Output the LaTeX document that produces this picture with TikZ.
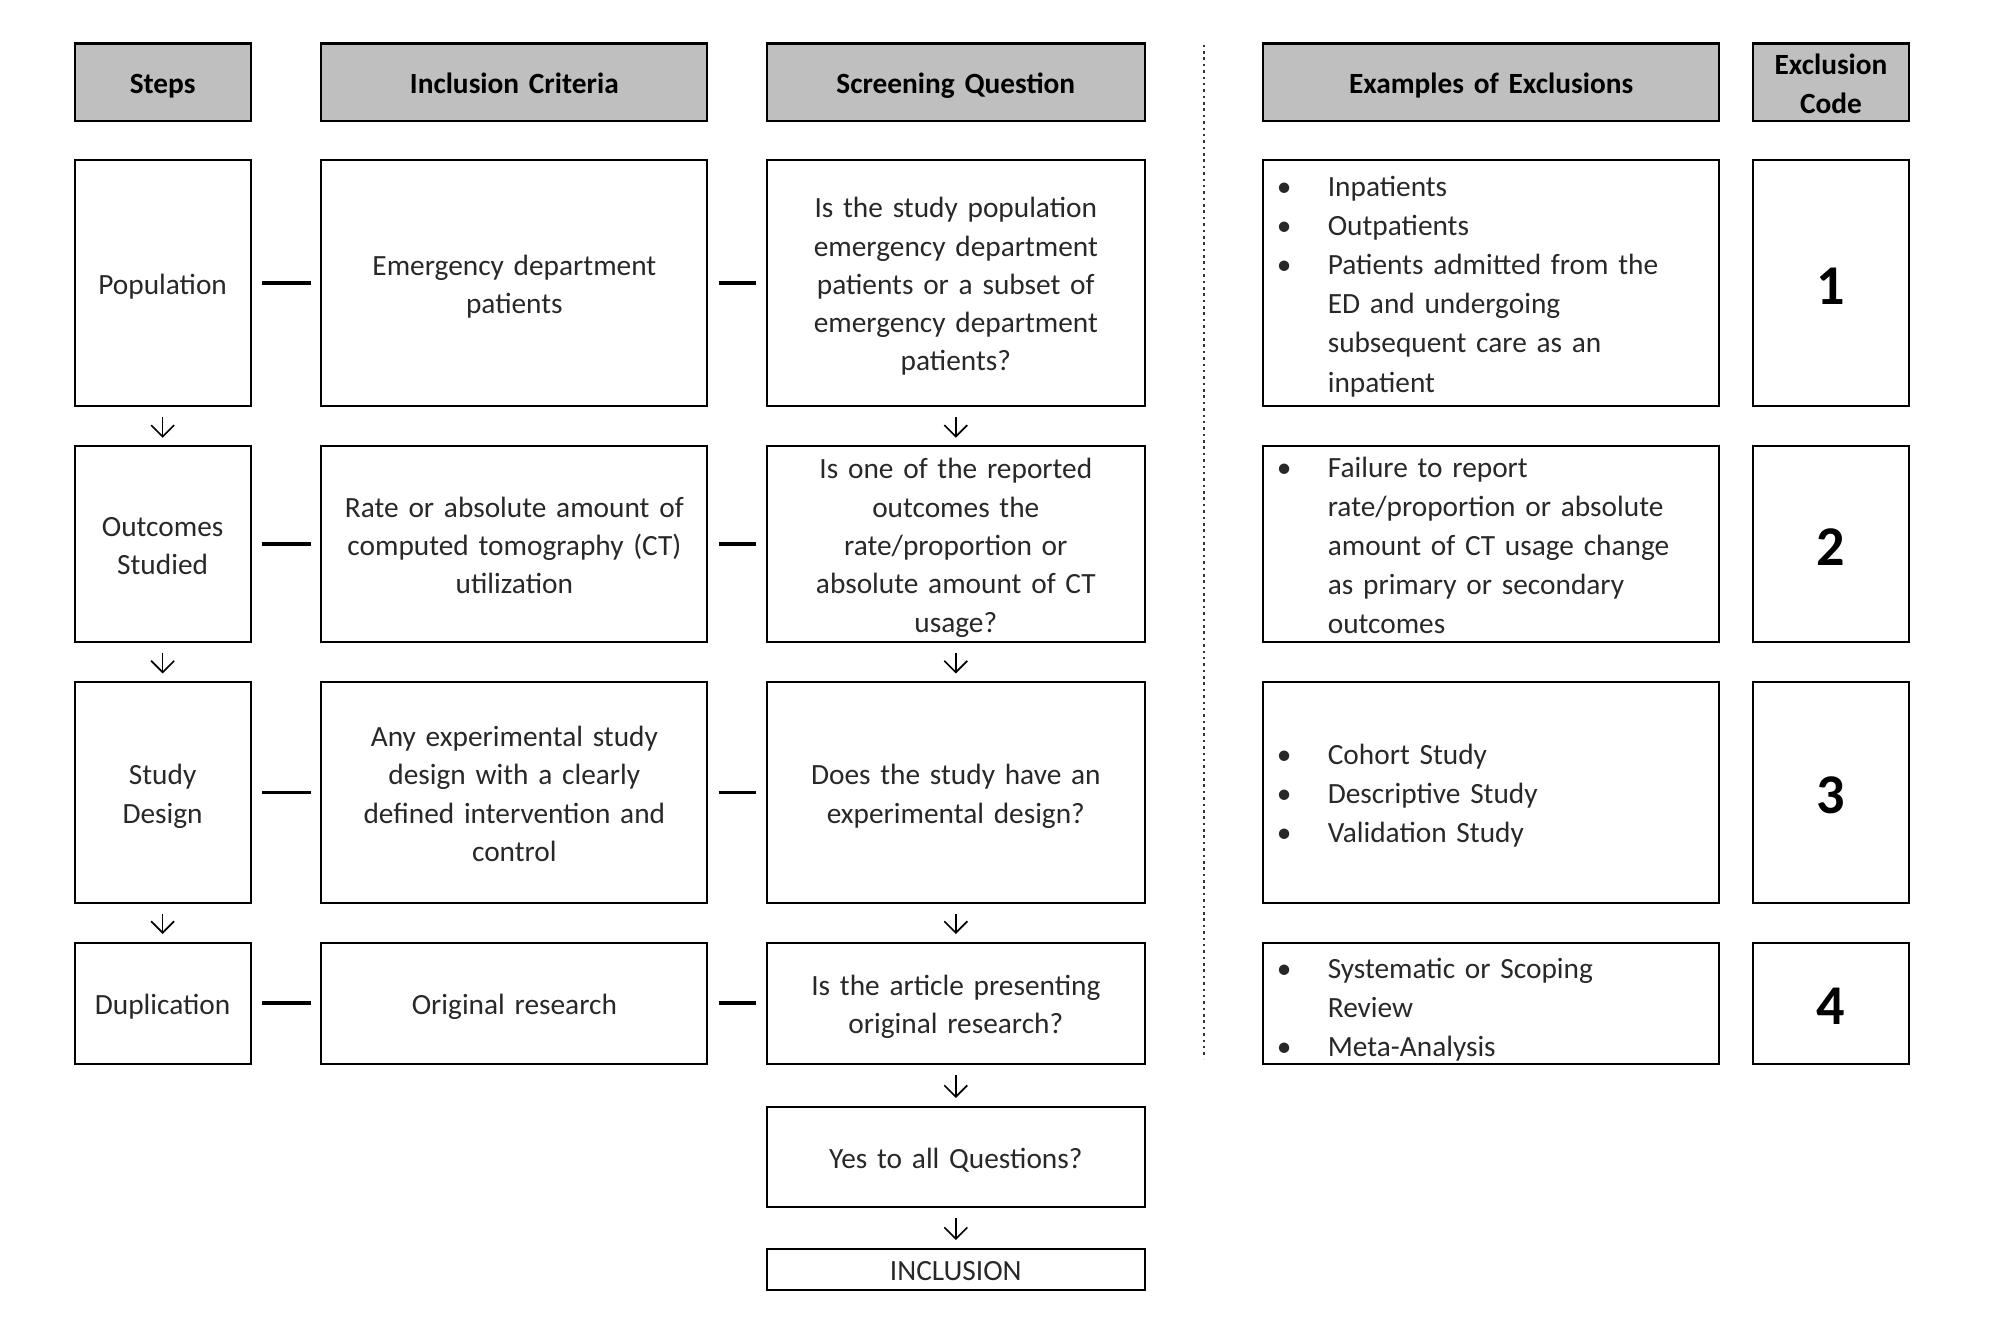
\documentclass[tikz,border=0pt]{standalone}
\usepackage{fontspec}
\setmainfont{Carlito}
\usetikzlibrary{arrows.meta}
\definecolor{hdrgray}{RGB}{191,191,191}
\definecolor{txtgray}{RGB}{40,40,40}
\newcommand{\bul}{\makebox[40pt][l]{\textbullet}}
\newcommand{\ind}{\hspace*{40pt}}
\begin{document}
\begin{tikzpicture}[x=1pt,y=1pt,
  box/.style={draw=black, line width=1.6pt, inner sep=0pt, align=center,
    text=txtgray, font=\fontsize{23}{30}\selectfont,
    execute at begin node={\rule{0pt}{23pt}},
    execute at end node={\rule[-5pt]{0pt}{5pt}}},
  colS/.style={minimum width=138pt, text width=130pt},
  colI/.style={minimum width=302.5pt, text width=294pt},
  colQ/.style={minimum width=296.7pt, text width=288pt},
  colE/.style={minimum width=358pt},
  colC/.style={minimum width=123pt, text width=115pt},
  hdr/.style={box, fill=hdrgray, text=black, font=\fontsize{23}{30}\selectfont\bfseries},
  exbox/.style={box, inner xsep=11pt, text width=336pt, align=left, font=\fontsize{23}{30.6}\selectfont},
  codebox/.style={box, text=black, font=\fontsize{44}{50}\selectfont\bfseries,
    execute at begin node={\rule{0pt}{38pt}}},
  conn/.style={line width=3pt, shorten <=8pt, shorten >=7.5pt},
  arr/.style={line width=1.3pt, -{Straight Barb[length=9pt,width=18pt]}, shorten <=8pt, shorten >=6pt},
  dotline/.style={line width=1.5pt, dash pattern=on 2pt off 3pt, black!80},
  ]
\useasboundingbox (0,0) rectangle (1568,-1048);

% headers
\node[hdr, colS, minimum height=61pt] (hs) at (127.5,-64.6) {Steps};
\node[hdr, colI, minimum height=61pt] (hi) at (403.25,-64.6) {Inclusion Criteria};
\node[hdr, colQ, minimum height=61pt] (hq) at (749.35,-64.6) {Screening Question};
\node[hdr, colE, text width=350pt, minimum height=61pt] (he) at (1169,-64.6) {Examples of Exclusions};
\node[hdr, colC, minimum height=61pt] (hc) at (1435.5,-64.6) {Exclusion\\Code};

% row 1
\node[box, colS, minimum height=193pt] (s1) at (127.5,-221.85) {Population};
\node[box, colI, minimum height=193pt] (i1) at (403.25,-221.85) {Emergency department\\patients};
\node[box, colQ, minimum height=193pt] (q1) at (749.35,-221.85) {Is the study population\\emergency department\\patients or a subset of\\emergency department\\patients?};
\node[exbox, colE, minimum height=193pt] (e1) at (1169,-221.85) {\bul Inpatients\\\bul Outpatients\\\bul Patients admitted from the\\\ind ED and undergoing\\\ind subsequent care as an\\\ind inpatient};
\node[codebox, colC, minimum height=193pt] (c1) at (1435.5,-221.85) {1};

% row 2
\node[box, colS, minimum height=153pt] (s2) at (127.5,-426.5) {Outcomes\\Studied};
\node[box, colI, minimum height=153pt] (i2) at (403.25,-426.5) {Rate or absolute amount of\\computed tomography (CT)\\utilization};
\node[box, colQ, minimum height=153pt] (q2) at (749.35,-426.5) {Is one of the reported\\outcomes the\\rate/proportion or\\absolute amount of CT\\usage?};
\node[exbox, colE, minimum height=153pt] (e2) at (1169,-426.5) {\bul Failure to report\\\ind rate/proportion or absolute\\\ind amount of CT usage change\\\ind as primary or secondary\\\ind outcomes};
\node[codebox, colC, minimum height=153pt] (c2) at (1435.5,-426.5) {2};

% row 3
\node[box, colS, minimum height=173pt] (s3) at (127.5,-621.3) {Study\\Design};
\node[box, colI, minimum height=173pt] (i3) at (403.25,-621.3) {Any experimental study\\design with a clearly\\defined intervention and\\control};
\node[box, colQ, minimum height=173pt] (q3) at (749.35,-621.3) {Does the study have an\\experimental design?};
\node[exbox, colE, minimum height=173pt] (e3) at (1169,-621.3) {\bul Cohort Study\\\bul Descriptive Study\\\bul Validation Study};
\node[codebox, colC, minimum height=173pt] (c3) at (1435.5,-621.3) {3};

% row 4
\node[box, colS, minimum height=95pt] (s4) at (127.5,-786.5) {Duplication};
\node[box, colI, minimum height=95pt] (i4) at (403.25,-786.5) {Original research};
\node[box, colQ, minimum height=95pt] (q4) at (749.35,-786.5) {Is the article presenting\\original research?};
\node[exbox, colE, minimum height=95pt, execute at begin node={\rule{0pt}{27pt}}] (e4) at (1169,-786.5) {\bul Systematic or Scoping\\\ind Review\\\bul Meta-Analysis};
\node[codebox, colC, minimum height=95pt] (c4) at (1435.5,-786.5) {4};

% bottom
\node[box, colQ, minimum height=78.4pt] (yes) at (749.35,-906.8) {Yes to all Questions?};
\node[box, colQ, minimum height=32pt] (inc) at (749.35,-995) {INCLUSION};

% dotted separator
\coordinate (dtop) at (944,-35);
\coordinate (dbot) at (944,-830);
\draw[dotline] (dtop) -- (dbot);

% horizontal connectors
\foreach \k in {1,2,3,4}{
  \draw[conn] (s\k.east) -- (i\k.west);
  \draw[conn] (i\k.east) -- (q\k.west);
}

% vertical arrows
\draw[arr] (s1.south) -- (s2.north);
\draw[arr] (s2.south) -- (s3.north);
\draw[arr] (s3.south) -- (s4.north);
\draw[arr] (q1.south) -- (q2.north);
\draw[arr] (q2.south) -- (q3.north);
\draw[arr] (q3.south) -- (q4.north);
\draw[arr] (q4.south) -- (yes.north);
\draw[arr] (yes.south) -- (inc.north);
\end{tikzpicture}
\end{document}
